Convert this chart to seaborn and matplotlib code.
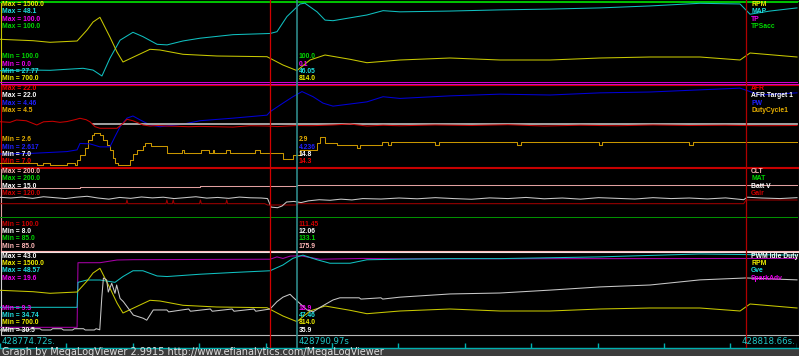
import matplotlib
matplotlib.use("Agg")
import matplotlib.pyplot as plt
from matplotlib.lines import Line2D
from matplotlib.patches import Rectangle
from matplotlib import font_manager
import seaborn as sns

# ---------------- time axis ----------------
T0 = 428774.72          # left edge timestamp (s)
T_END = 428818.66       # right edge timestamp (s)
T_CURSOR_LABEL = 428790.97
SPAN = T_END - T0
MARK_RED_1 = 14.89      # seconds from T0
MARK_CURSOR = 16.37
MARK_RED_2 = 41.13
TICK_TIMES = [0, 3.66, 7.32, 10.98, 14.64, 18.31, 21.97, 25.63, 29.29, 32.95, 36.61, 40.27, 43.94]

# ---------------- panel 1 ----------------
RPM_T = [0, 1.82, 2.76, 4.25, 4.80, 5.13, 5.51, 6.06, 6.45, 6.78, 7.33, 8.27, 8.82, 10.09, 11.96,
         14.72, 15.60, 16.37, 17.09, 17.92, 19.30, 20.23, 22.05, 24.81, 27.57, 30.32, 33.08, 35.84,
         38.59, 40.80, 41.35, 43.94]
RPM_V = [1127, 1113, 1097, 1110, 1220, 1300, 1347, 1150, 1000, 900, 947, 1027, 1020, 977, 960,
         953, 870, 814, 920, 970, 927, 893, 920, 940, 920, 920, 940, 950,
         950, 920, 990, 950]
MAP_T = [0, 1.82, 2.76, 4.58, 5.13, 5.62, 6.06, 6.62, 7.33, 7.88, 8.66, 9.21, 10.09, 11.03, 12.85,
         14.89, 15.27, 15.82, 16.54, 16.81, 17.48, 17.92, 18.36, 20.23, 21.12, 22.05, 24.81, 27.57,
         30.32, 33.08, 35.84, 38.59, 40.80, 41.35, 42.45, 43.94]
MAP_V = [30.64, 30.80, 30.74, 31.25, 30.80, 29.30, 33.80, 38.40, 40.40, 39.30, 37.35, 37.20, 38.20,
         38.90, 39.80, 40.10, 40.55, 44.40, 47.60, 47.80, 45.60, 43.50, 43.35, 44.80, 45.90, 45.60,
         45.80, 46.10, 46.30, 46.60, 47.10, 47.77, 47.60, 45.00, 45.80, 46.60]
TP_T = [0, 43.94]
TP_V = [0.1, 0.1]
TPSACC_T = [0, 43.94]
TPSACC_V = [100.0, 100.0]

# ---------------- panel 2 ----------------
AFR_T = [0, 0.55, 0.91, 1.45, 2.03, 2.40, 2.90, 3.30, 3.69, 4.13, 4.41, 4.75, 4.96, 5.24, 5.51,
         6.06, 6.45, 6.78, 7.00, 7.33, 7.60, 7.88, 8.27, 8.66, 9.21, 9.76, 10.40, 11.03, 11.90,
         12.85, 13.80, 14.72, 15.30, 16.37, 17.20, 18.36, 19.30, 20.23, 21.12, 22.05, 24.0, 26.0,
         28.0, 30.0, 32.0, 34.0, 36.0, 38.0, 40.0, 42.0, 43.94]
AFR_V = [15.22, 15.10, 15.55, 15.40, 14.60, 15.20, 15.30, 15.10, 15.25, 15.60, 15.87, 15.60, 15.20,
         14.27, 13.97, 13.97, 13.97, 14.90, 15.68, 15.40, 15.03, 14.60, 14.40, 14.50, 14.40, 14.35,
         14.27, 14.33, 14.27, 14.20, 14.46, 14.40, 14.30, 14.50, 14.46, 14.60, 14.78, 14.40, 14.55,
         14.45, 14.60, 14.50, 14.65, 14.40, 14.55, 14.45, 14.60, 14.50, 14.55, 14.45, 14.50]
TARGET_T = [5.13, 43.94]
TARGET_V = [14.8, 14.8]
PW_T = [0, 1.82, 3.69, 4.25, 4.41, 4.96, 5.51, 6.06, 6.34, 6.62, 7.00, 7.33, 7.72, 8.27, 8.82,
        10.09, 11.03, 12.85, 14.72, 14.89, 15.60, 16.15, 16.65, 17.26, 17.81, 18.36, 19.30, 20.23,
        21.12, 22.05, 24.81, 27.57, 30.32, 33.08, 35.84, 38.59, 40.80, 41.90, 43.94]
PW_V = [2.874, 2.89, 2.93, 2.97, 3.12, 3.11, 3.04, 3.04, 3.28, 3.51, 3.71, 3.76, 3.67, 3.55, 3.51,
        3.57, 3.65, 3.71, 3.78, 3.86, 4.06, 4.21, 4.33, 4.21, 4.06, 3.99, 4.04, 4.09,
        4.21, 4.17, 4.23, 4.27, 4.25, 4.30, 4.32, 4.37, 4.41, 4.25, 4.30]
DUTY_T = [0, 2.03, 2.39, 2.76, 3.69, 4.13, 4.25, 4.41, 4.69, 4.87, 5.07, 5.18, 5.51, 5.70, 5.88,
          6.06, 6.25, 6.34, 6.52, 7.08, 7.17, 7.35, 7.53, 7.90, 8.0, 8.3, 9.19, 10.05, 10.15,
          11.10, 11.50, 11.72, 11.80, 12.45, 12.70, 14.06, 14.33, 15.62, 16.17, 16.54, 17.46,
          17.64, 17.92, 18.56, 19.66, 19.85, 21.04, 21.40, 21.55, 24.0, 24.2, 28.5, 28.7, 33.0,
          33.2, 38.0, 38.2, 43.94]
DUTY_V = [2.64, 2.60, 2.64, 2.60, 2.64, 2.60, 2.72, 2.84, 3.01, 3.20, 3.32, 3.38, 3.32, 3.20, 3.08,
          2.96, 2.77, 2.64, 2.60, 2.60, 2.72, 2.86, 2.96, 3.06, 3.12, 3.06, 2.88, 2.96, 2.88,
          2.96, 2.88, 2.96, 2.88, 2.96, 2.88, 2.96, 2.88, 2.74, 2.84, 2.96, 3.12,
          3.28, 3.12, 3.08, 3.01, 3.08, 3.16, 3.08, 3.16, 3.08, 3.16, 3.08, 3.16, 3.08,
          3.16, 3.08, 3.16, 3.16]

# ---------------- panel 3 ----------------
CLT_T = [0, 4.41, 11.03, 16.37, 43.94]
CLT_V = [174.6, 176.0, 177.4, 178.6, 178.6]
MAT_T = [0, 43.94]
MAT_V = [133.1, 133.1]
BATT_T = [0, 0.6, 1.2, 1.8, 2.4, 3.0, 3.6, 4.2, 4.8, 5.4, 6.0, 6.6, 7.2, 7.8, 8.4, 9.0, 9.6, 10.2,
          10.8, 11.4, 12.0, 12.6, 13.2, 13.8, 14.4, 14.75, 14.95, 15.3, 15.55, 15.8, 16.2, 16.6,
          17.0, 17.6, 18.2, 18.8, 19.4, 20.0, 21.0, 22.0, 23.0, 24.0, 25.0, 26.0, 27.0, 28.0, 29.0,
          30.0, 31.0, 32.0, 33.0, 34.0, 35.0, 36.0, 37.0, 38.0, 39.0, 40.0, 41.0, 41.2, 42.0, 43.0,
          43.94]
BATT_V = [12.61, 12.55, 12.63, 12.52, 12.66, 12.58, 12.50, 12.62, 12.70, 12.55, 12.45, 12.60, 12.52,
          12.64, 12.56, 12.62, 12.50, 12.58, 12.66, 12.54, 12.60, 12.52, 12.63, 12.57, 12.55,
          12.50, 11.75, 11.70, 11.85, 12.20, 12.25, 12.15, 12.30, 12.40, 12.35, 12.45, 12.38, 12.50,
          12.46, 12.55, 12.48, 12.58, 12.50, 12.44, 12.56, 12.50, 12.60, 12.48, 12.55, 12.45, 12.58,
          12.52, 12.46, 12.58, 12.50, 12.55, 12.47, 12.56, 12.40,
          12.62, 12.55, 12.50, 12.58]
GAIR_T = [0, 6.95, 7.0, 7.05, 9.15, 9.2, 9.25, 9.5, 9.55, 9.6, 11.0, 11.05, 11.1, 12.45, 12.5, 12.55,
          14.6, 14.75, 16.3, 16.45, 41.0, 41.13, 43.94]
GAIR_V = [111.58, 111.58, 112.5, 111.58, 111.58, 112.5, 111.58, 111.58, 112.5, 111.58, 111.58,
          112.5, 111.58, 111.58, 112.5, 111.58, 111.58, 111.25, 111.25, 111.58, 111.58, 112.5, 112.5]

# ---------------- panel 4 ----------------
PWM_T = [0, 0.4, 0.5, 1.0, 1.1, 1.6, 1.7, 2.2, 2.3, 2.8, 2.9, 3.4, 3.5, 4.0, 4.1, 4.6, 4.7, 5.2, 5.3,
         5.50, 5.61, 5.70, 5.88, 5.97, 6.16, 6.34, 6.43, 6.62, 6.80, 7.35, 7.90, 8.09, 8.45, 9.2,
         9.3, 10.4, 10.5, 11.6, 11.7, 12.8, 12.9, 14.0, 14.1, 14.89, 15.27, 15.60, 15.99, 16.15,
         16.54, 16.93, 17.26, 17.64, 18.36, 18.74, 19.8, 19.9, 21.0, 21.1, 22.05, 24.81, 27.57,
         30.32, 33.08, 35.84, 38.59, 41.13, 43.94]
PWM_V = [30.97, 30.97, 31.17, 31.17, 30.97, 30.97, 31.17, 31.17, 30.97, 30.97, 31.17, 31.17, 30.97,
         30.97, 31.17, 31.17, 30.97, 30.97, 31.17, 31.0, 35.97, 39.09, 38.78, 36.9, 38.27, 36.7,
         38.0, 35.9, 35.4, 33.3, 32.8, 32.5, 34.1, 34.1, 33.8, 34.25, 33.9, 34.25, 33.9, 34.25,
         33.9, 34.25, 33.9, 34.25, 35.4, 36.1, 36.55, 36.1, 35.1, 34.1, 33.8, 34.5, 35.66, 36.0,
         36.0, 35.8, 36.0, 35.8, 36.1, 36.6, 36.75, 37.2, 37.7, 38.0, 38.8, 39.1, 38.8]
GVE_T = [0, 4.25, 4.30, 4.80, 5.51, 6.34, 6.78, 7.33, 7.88, 8.66, 9.21, 11.03, 12.85, 14.89, 15.60,
         16.15, 16.70, 17.48, 18.19, 19.30, 20.23, 22.05, 24.81, 27.57, 33.08, 38.59, 41.13, 43.94]
GVE_V = [39.18, 39.18, 43.5, 43.9, 43.9, 43.5, 44.5, 45.5, 45.5, 44.6, 44.5, 44.9, 45.2, 45.5, 46.5,
         47.65, 48.2, 47.4, 46.8, 46.8, 47.4, 47.5, 47.6, 47.6, 47.9, 48.4, 48.3, 48.2]
SPARK_T = [0, 4.25, 4.30, 5.51, 6.45, 7.33, 14.89, 15.27, 15.6, 16.0, 16.54, 17.64, 20.0, 22.0, 43.94]
SPARK_V = [10.03, 10.03, 18.35, 18.35, 18.7, 18.74, 18.8, 19.1, 18.9, 19.2, 19.25, 18.8, 18.9, 18.85, 18.9]

STATUS_TEXT = "Graph by MegaLogViewer 2.9915 http://www.efianalytics.com/MegaLogViewer"

# ---------------- colours ----------------
YEL_L, YEL_T = "#c8c800", "#f0f000"
CYA_L, CYA_T = "#10c0c0", "#20e0e0"
MAG_L, MAG_T = "#d000d0", "#f000f0"
MAG2_L = "#a800a8"
GRN_L, GRN_T = "#00c000", "#00d800"
MAT_L = "#009000"
RED_L, RED_T = "#c80000", "#f00000"
GAIR_L, GAIR_T_C = "#a00000", "#d00000"
WHT_L, WHT_T = "#c8c8c8", "#ffffff"
TGT_L = "#b0b0b0"
BLU_L, BLU_T = "#0000d8", "#2020ff"
ORG_L, ORG_T = "#c89600", "#e8b000"
PNK_L, PNK_T = "#e0a0a0", "#ffb8b8"

W, H = 799, 356
X_RIGHT = 797

installed = {f.name for f in font_manager.fontManager.ttflist}
if "Liberation Sans Narrow" in installed:
    LBL_FONT, LBL_SIZE = "Liberation Sans Narrow", 5.4
elif "Liberation Sans" in installed:
    LBL_FONT, LBL_SIZE = "Liberation Sans", 4.9
else:
    LBL_FONT, LBL_SIZE = "DejaVu Sans", 4.6
LW = 0.75


def S(name, t, v, lo, hi, lc, tc, cur, ds="default", lw=LW):
    return dict(name=name, t=t, v=v, lo=lo, hi=hi, lc=lc, tc=tc, cur=cur, ds=ds, lw=lw)


panels = [
    dict(box=(0.5, 83.5), data=(2, 82),
         spines=dict(top=GRN_L, bottom=MAG_L, left=YEL_L, right=YEL_L),
         series=[S("RPM", RPM_T, RPM_V, 700.0, 1500.0, YEL_L, YEL_T, 814.0),
                 S("MAP", MAP_T, MAP_V, 27.77, 48.1, CYA_L, CYA_T, 46.05),
                 S("TP", TP_T, TP_V, 0.0, 100.0, MAG_L, MAG_T, 0.1),
                 S("TPSacc", TPSACC_T, TPSACC_V, 100.0, 100.0, GRN_L, GRN_T, 100.0)]),
    dict(box=(84.5, 166.5), data=(86, 165),
         spines=dict(top=RED_L, bottom=RED_L, left=RED_L, right=RED_L),
         series=[S("AFR", AFR_T, AFR_V, 7.0, 22.0, RED_L, RED_T, 14.3),
                 S("AFR Target 1", TARGET_T, TARGET_V, 7.0, 22.0, TGT_L, WHT_T, 14.8, lw=1.3),
                 S("PW", PW_T, PW_V, 2.617, 4.46, BLU_L, BLU_T, 4.236),
                 S("DutyCycle1", DUTY_T, DUTY_V, 2.6, 4.5, ORG_L, ORG_T, 2.9, ds="steps-post")]),
    dict(box=(167.5, 251.0), data=(170, 250),
         spines=dict(top=RED_L, bottom=PNK_T, left=PNK_L, right=PNK_L),
         series=[S("CLT", CLT_T, CLT_V, 85.0, 200.0, PNK_L, PNK_T, 175.9, ds="steps-post"),
                 S("MAT", MAT_T, MAT_V, 85.0, 200.0, MAT_L, GRN_T, 133.1),
                 S("Batt V", BATT_T, BATT_V, 8.0, 15.0, WHT_L, WHT_T, 12.06),
                 S("Gair", GAIR_T, GAIR_V, 100.0, 120.0, GAIR_L, GAIR_T_C, 111.45)]),
    dict(box=(252.0, 335.0), data=(253, 333),
         spines=dict(top="#f0e0e0", bottom="#b8b8b8", left="#d0d0d0", right="#d0d0d0"),
         series=[S("PWM Idle Duty", PWM_T, PWM_V, 30.5, 43.0, WHT_L, WHT_T, 35.9),
                 S("RPM", RPM_T, RPM_V, 700.0, 1500.0, YEL_L, YEL_T, 814.0),
                 S("Gve", GVE_T, GVE_V, 34.74, 48.57, CYA_L, CYA_T, 47.46),
                 S("SparkAdv", SPARK_T, SPARK_V, 9.3, 19.6, MAG2_L, MAG_T, 18.9)]),
]


def rect(x0, y0, x1, y1):
    return [x0 / W, 1 - y1 / H, (x1 - x0) / W, (y1 - y0) / H]


def fy(y):
    return 1 - y / H


fig = plt.figure(figsize=(W / 100, H / 100), dpi=100, facecolor="black")


def label(x, y, s, color, ha="left", size=None, family=None, weight="bold"):
    fig.text(x / W, fy(y), s, color=color, ha=ha, va="center", fontsize=size or LBL_SIZE,
             family=family or LBL_FONT, fontweight=weight, zorder=5)


for p in panels:
    top, bot = p["box"]
    base = fig.add_axes(rect(0.5, top, 798.5, bot))
    base.set_facecolor("black")
    base.set_xticks([])
    base.set_yticks([])
    for side, col in p["spines"].items():
        base.spines[side].set_color(col)
        base.spines[side].set_linewidth(0.8)
    dtop, dbot = p["data"]
    for s in reversed(p["series"]):
        ax = fig.add_axes(rect(0, dtop, X_RIGHT, dbot))
        ax.patch.set_visible(False)
        sns.lineplot(x=s["t"], y=s["v"], ax=ax, color=s["lc"], linewidth=s["lw"],
                     estimator=None, sort=False, legend=False, drawstyle=s["ds"])
        ax.set_xlim(0, SPAN)
        lo, hi = s["lo"], s["hi"]
        if lo == hi:
            lo = hi - 1.0
        ax.set_ylim(lo, hi)
        ax.set_axis_off()
        for ln in ax.lines:
            ln.set_clip_on(False)
    n = len(p["series"])
    for i, s in enumerate(p["series"]):
        yy = top + 4.0 + 7.4 * i
        label(2, yy, f"Max = {s['hi']}", s["tc"])
        label(751, yy, s["name"], s["tc"])
    for j, s in enumerate(reversed(p["series"])):
        yy = bot - (4.8 + 7.3 * (n - 1 - j))
        label(2, yy, f"Min = {s['lo']}", s["tc"])
        label(299, yy, f"{s['cur']}", s["tc"])

# cursor / marker lines
ov = fig.add_axes(rect(0, 0, X_RIGHT, 347.5))
ov.patch.set_visible(False)
ov.set_xlim(0, SPAN)
ov.set_ylim(0, 1)
ov.set_axis_off()
ov.set_zorder(2)
ov.axvline(MARK_RED_1, color="#d00000", lw=0.9)
ov.axvline(MARK_CURSOR, color="#2e8a8a", lw=1.2)
ov.axvline(MARK_RED_2, color="#b00000", lw=0.9)

# timeline ticks
tl = fig.add_axes(rect(0, 336, X_RIGHT, 347.5))
tl.patch.set_visible(False)
tl.set_xlim(0, SPAN)
tl.set_ylim(0, 1)
tl.set_axis_off()
tl.vlines(TICK_TIMES, 0, 0.35, color="#00b0b0", lw=1.0)

fig.add_artist(Line2D([0, 1], [fy(347.8)] * 2, color="#00b0b0", lw=1.0, transform=fig.transFigure))
fig.add_artist(Rectangle((0, 0), 1, 8.2 / H, transform=fig.transFigure, facecolor="#3c3c3c",
                         edgecolor="none"))

label(2, 341, f"{T0:.2f}s.", "#20c8c8", weight="normal", size=6.2, family="DejaVu Sans")
label(299, 341, f"{T_CURSOR_LABEL:.2f}s", "#20c8c8", weight="normal", size=6.2, family="DejaVu Sans")
label(795, 341, f"{T_END:.2f}s.", "#20c8c8", ha="right", weight="normal", size=6.2, family="DejaVu Sans")
label(2, 352.4, STATUS_TEXT, "#e0e0e0", weight="normal", size=7.0, family="DejaVu Sans")

fig.savefig("out.png", dpi=100, facecolor="black")
